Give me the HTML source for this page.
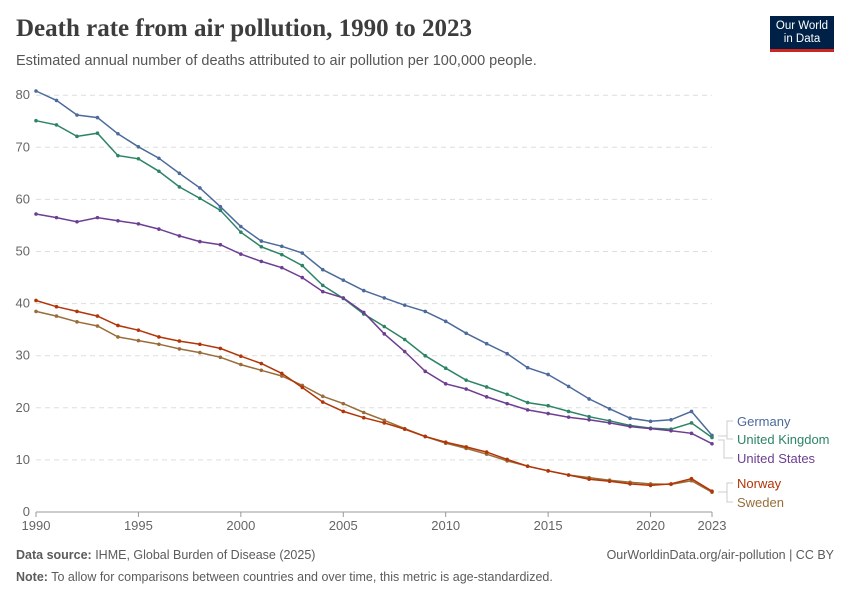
<!DOCTYPE html>
<html><head><meta charset="utf-8"><style>
body{margin:0;width:850px;height:600px;background:#fff;font-family:"Liberation Sans",sans-serif;overflow:hidden;position:relative}
.t{position:absolute;left:16px;top:15px;font-family:"Liberation Serif",serif;font-size:25px;font-weight:bold;color:#3d3d3d}
.s{position:absolute;left:16px;top:53px;font-size:14.5px;color:#555}
.logo{position:absolute;left:770px;top:16px;width:64px;height:36px;background:#002147;color:#fff;font-size:11.5px;text-align:center;line-height:13px;padding-top:4px;box-sizing:border-box;border-bottom:3px solid #ce261e}
.f{position:absolute;font-size:12.5px;color:#5b5b5b}
</style></head><body>
<div class="t">Death rate from air pollution, 1990 to 2023</div>
<div class="s">Estimated annual number of deaths attributed to air pollution per 100,000 people.</div>
<div class="logo">Our World<br>in Data</div>
<svg id="c" width="850" height="600" style="position:absolute;left:0;top:0"></svg>
<div class="f" style="left:16px;top:548px"><b>Data source:</b> IHME, Global Burden of Disease (2025)</div>
<div class="f" style="right:16px;top:548px">OurWorldinData.org/air-pollution | CC BY</div>
<div class="f" style="left:16px;top:570px"><b>Note:</b> To allow for comparisons between countries and over time, this metric is age-standardized.</div>
<script>
var D=[
["Germany","#4c6a9c",[80.8,79,76.2,75.7,72.6,70.1,67.9,65,62.2,58.6,54.8,52,51,49.7,46.5,44.5,42.5,41.1,39.7,38.5,36.6,34.3,32.3,30.4,27.7,26.4,24.1,21.7,19.8,18,17.4,17.7,19.3,14.7]],
["United Kingdom","#2c8465",[75.1,74.3,72.1,72.7,68.4,67.8,65.4,62.4,60.2,57.9,53.7,50.9,49.4,47.3,43.5,41,38,35.6,33.1,30,27.6,25.3,24,22.6,21,20.4,19.3,18.3,17.5,16.6,16.1,15.9,17.1,14.3]],
["United States","#6d3e91",[57.2,56.5,55.7,56.5,55.9,55.3,54.3,53,51.9,51.3,49.5,48.1,46.9,45,42.3,41.1,38.3,34.2,30.8,27,24.6,23.6,22.1,20.8,19.6,18.9,18.2,17.7,17.1,16.4,16,15.6,15.1,13.1]],
["Sweden","#996d39",[38.5,37.6,36.5,35.7,33.6,32.9,32.2,31.3,30.6,29.7,28.3,27.2,26.1,24.3,22.2,20.8,19.1,17.6,16,14.5,13.2,12.2,11.1,9.8,8.8,7.9,7.1,6.6,6.1,5.7,5.4,5.3,6,3.8]],
["Norway","#b13507",[40.6,39.4,38.5,37.6,35.8,34.9,33.6,32.8,32.2,31.4,29.9,28.5,26.6,23.9,21.1,19.3,18.1,17.1,15.9,14.5,13.4,12.5,11.5,10.1,8.8,7.9,7.1,6.3,5.9,5.4,5.1,5.4,6.4,4]]];
function X(i){return 36+i*676/33}function Y(v){return 512-v*5.21}
var s="";
for(var v=0;v<=80;v+=10){var y=Y(v);if(v>0)s+='<line x1="36" x2="712" y1="'+y+'" y2="'+y+'" stroke="#ddd" stroke-dasharray="5,4"/>';s+='<text x="30" y="'+(y+4)+'" text-anchor="end" font-size="13" fill="#666">'+v+'</text>';}
s+='<line x1="36" x2="712" y1="512" y2="512" stroke="#999"/>';
[1990,1995,2000,2005,2010,2015,2020,2023].forEach(function(yr){var x=X(yr-1990);s+='<line x1="'+x+'" x2="'+x+'" y1="512" y2="517" stroke="#999"/><text x="'+x+'" y="530" text-anchor="middle" font-size="13" fill="#666">'+yr+'</text>';});
D.forEach(function(d){var p=d[2].map(function(v,i){return X(i).toFixed(1)+","+Y(v).toFixed(1)}).join(" ");
s+='<polyline points="'+p+'" fill="none" stroke="'+d[1]+'" stroke-width="1.5"/>';
d[2].forEach(function(v,i){s+='<circle cx="'+X(i)+'" cy="'+Y(v)+'" r="1.8" fill="'+d[1]+'"/>';});});
var L=[["Germany","#4c6a9c",421],["United Kingdom","#2c8465",439],["United States","#6d3e91",458],["Norway","#b13507",483],["Sweden","#996d39",502]];
L.forEach(function(l){s+='<text x="737" y="'+(l[2]+5)+'" font-size="13" fill="'+l[1]+'">'+l[0]+'</text>';});
s+='<path d="M718 436H727V421H733M727 436V439H733M718 440H724V458H733M718 492H727V483H733M727 492V502H733" fill="none" stroke="#ccc"/>';
document.getElementById("c").innerHTML=s;
</script>
</body></html>
